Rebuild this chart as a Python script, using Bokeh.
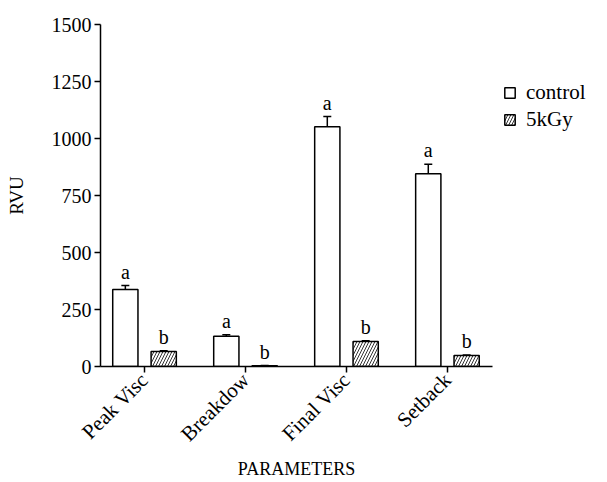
import math
from bokeh.plotting import figure
from bokeh.models import (ColumnDataSource, FixedTicker, Range1d, Legend, LegendItem,
                          Whisker, TeeHead)
from bokeh.core.properties import value
from bokeh.embed import file_html
from bokeh.resources import INLINE

categories = ["Peak Visc", "Breakdow", "Final Visc", "Setback"]
control = [338, 133, 1051, 845]
control_err = [17, 6, 45, 42]
gy5 = [66, 3, 110, 48]
gy5_err = [3, 1, 3, 2]
control_letters = ["a", "a", "a", "a"]
gy5_letters = ["b", "b", "b", "b"]
y_ticks = [0, 250, 500, 750, 1000, 1250, 1500]

FONT = "Liberation Serif"
offset = 0.19
width = 0.25

pos = [i + 1 for i in range(len(categories))]
src_c = ColumnDataSource(dict(x=[p - offset for p in pos], top=control,
                              up=[v + e for v, e in zip(control, control_err)],
                              lab=control_letters))
src_g = ColumnDataSource(dict(x=[p + offset for p in pos], top=gy5,
                              up=[v + e for v, e in zip(gy5, gy5_err)],
                              lab=gy5_letters))

p = figure(frame_width=392, frame_height=342, output_backend="svg", toolbar_location=None,
           x_range=Range1d(0.564, 4.446), y_range=Range1d(0, 1500),
           min_border_left=100, min_border_top=24, min_border_bottom=116, min_border_right=4)
p.outline_line_color = None
p.grid.visible = False
p.background_fill_color = "white"
p.border_fill_color = "white"

rc = p.vbar(x="x", top="top", width=width, source=src_c, fill_color="white",
            line_color="black", line_width=1.5)
rg = p.vbar(x="x", top="top", width=width, source=src_g, fill_color="white",
            line_color="black", line_width=1.5, hatch_pattern="right_diagonal_line",
            hatch_color="black", hatch_scale=6, hatch_weight=0.8)

for src in (src_c, src_g):
    w = Whisker(base="x", lower="top", upper="up", source=src, line_width=1.5,
                upper_head=TeeHead(size=8, line_width=1.5), lower_head=None)
    p.add_layout(w)
    p.text(x="x", y="up", text="lab", source=src, text_align="center",
           text_baseline="alphabetic", y_offset=-14, text_font=value(FONT),
           text_font_size="20px", text_color="black")

p.xaxis.ticker = FixedTicker(ticks=pos)
p.xaxis.major_label_overrides = {p_: c for p_, c in zip(pos, categories)}
p.xaxis.major_label_orientation = math.pi / 4
p.yaxis.ticker = FixedTicker(ticks=y_ticks)
for ax in (p.xaxis[0], p.yaxis[0]):
    ax.axis_line_width = 1.5
    ax.major_tick_line_width = 1.5
    ax.major_tick_out = 6
    ax.major_tick_in = 0
    ax.minor_tick_line_color = None
    ax.major_label_text_font = FONT
    ax.major_label_text_color = "black"
    ax.axis_label_text_font = FONT
    ax.axis_label_text_font_style = "normal"
    ax.axis_label_text_color = "black"
p.yaxis.major_label_text_font_size = "20px"
p.xaxis.major_label_text_font_size = "21px"
p.yaxis.axis_label = "RVU"
p.yaxis.axis_label_text_font_size = "19px"
p.yaxis.axis_label_standoff = 22
p.yaxis.major_label_standoff = 3
p.xaxis.axis_label = "PARAMETERS"
p.xaxis.axis_label_text_font_size = "18px"
p.xaxis.axis_label_standoff = 2
p.xaxis.major_label_standoff = 4

legend = Legend(items=[LegendItem(label="control", renderers=[rc]),
                       LegendItem(label="5kGy", renderers=[rg])],
                location=(11, 234), border_line_color=None, background_fill_alpha=0,
                glyph_width=13, glyph_height=13, label_standoff=10, spacing=2,
                label_height=20, padding=4, margin=0)
legend.label_text_font = "Liberation Serif, Times New Roman, serif"
legend.label_text_font_size = "21px"
legend.label_text_font_style = "normal"
legend.label_text_color = "black"
p.add_layout(legend, "right")

open("out.html", "w").write(file_html(p, INLINE))
